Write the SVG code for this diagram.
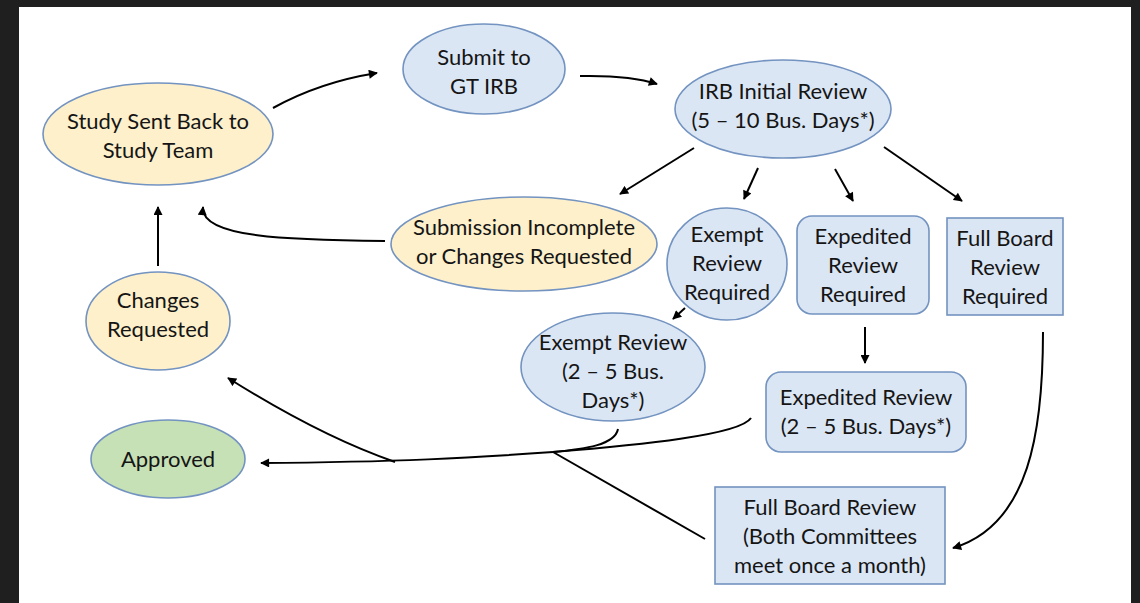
<svg xmlns="http://www.w3.org/2000/svg" width="1140" height="603" viewBox="0 0 1140 603">
<defs>
<marker id="ah" viewBox="0 0 10 10" refX="9" refY="5" markerWidth="10" markerHeight="9" markerUnits="userSpaceOnUse" orient="auto">
<path d="M0,0 L10,5 L0,10 z" fill="#000"/>
</marker>
<style>
.bl{fill:#dbe6f4;stroke:#7393c0;stroke-width:1.6}
.yl{fill:#fdf0cb;stroke:#7393c0;stroke-width:1.6}
.gr{fill:#c6e1b6;stroke:#7393c0;stroke-width:1.6}
text{font-family:Lato,"Liberation Sans",sans-serif;font-size:22px;fill:#151515;text-anchor:middle}
.c{fill:none;stroke:#000;stroke-width:2}
.a{marker-end:url(#ah)}
</style>
</defs>
<rect x="0" y="0" width="1140" height="603" fill="#1f1f1f"/>
<rect x="19" y="7" width="1112" height="596" fill="#fff"/>
<g id="connectors">
<path class="c a" d="M273,108 Q320,82 377,73"/>
<path class="c a" d="M580,76 Q630,75 657,84"/>
<path class="c a" d="M694,148 L620,194"/>
<path class="c a" d="M758,168 L744,199"/>
<path class="c a" d="M835,169 L853,201"/>
<path class="c a" d="M884,147 L962,201"/>
<path class="c a" d="M685,308 L673,319"/>
<path class="c a" d="M865,327 L865,363"/>
<path class="c a" d="M1043,332 C1043,430 1030,525 953,548"/>
<path class="c a" d="M385,241 C290,240 200,238 203,207"/>
<path class="c a" d="M158,266 L158,207"/>
<path class="c" d="M618,429 C615,445 585,449 553,452"/>
<path class="c" d="M751,418 C740,435 640,445 553,452"/>
<path class="c" d="M553,452 L705,539"/>
<path class="c a" d="M553,452 C470,458 400,462 261,463"/>
<path class="c a" d="M395,462 Q320,436 228,378"/>
</g>
<g id="study-sent-back">
<ellipse class="yl" cx="158" cy="134" rx="115" ry="51"/>
<text x="158" y="129">Study Sent Back to</text>
<text x="158" y="158">Study Team</text>
</g>
<g id="submit">
<ellipse class="bl" cx="484" cy="69" rx="81" ry="45"/>
<text x="484" y="65">Submit to</text>
<text x="484" y="94">GT IRB</text>
</g>
<g id="irb-initial">
<ellipse class="bl" cx="783" cy="109" rx="108" ry="49"/>
<text x="783" y="99">IRB Initial Review</text>
<text x="783" y="128">(5 – 10 Bus. Days*)</text>
</g>
<g id="submission-incomplete">
<ellipse class="yl" cx="524" cy="244" rx="133" ry="47"/>
<text x="524" y="235">Submission Incomplete</text>
<text x="524" y="264">or Changes Requested</text>
</g>
<g id="exempt-required">
<ellipse class="bl" cx="727" cy="264" rx="60" ry="56"/>
<text x="727" y="242">Exempt</text>
<text x="727" y="271">Review</text>
<text x="727" y="300">Required</text>
</g>
<g id="expedited-required">
<rect class="bl" x="797" y="216" width="132" height="98" rx="15"/>
<text x="863" y="244">Expedited</text>
<text x="863" y="273">Review</text>
<text x="863" y="302">Required</text>
</g>
<g id="fullboard-required">
<rect class="bl" x="947" y="218" width="116" height="97"/>
<text x="1005" y="246">Full Board</text>
<text x="1005" y="275">Review</text>
<text x="1005" y="304">Required</text>
</g>
<g id="changes-requested">
<ellipse class="yl" cx="158" cy="321" rx="72" ry="49"/>
<text x="158" y="308">Changes</text>
<text x="158" y="337">Requested</text>
</g>
<g id="exempt-review">
<ellipse class="bl" cx="613" cy="367" rx="92" ry="54"/>
<text x="613" y="350">Exempt Review</text>
<text x="613" y="379">(2 – 5 Bus.</text>
<text x="613" y="408">Days*)</text>
</g>
<g id="expedited-review">
<rect class="bl" x="766" y="372" width="200" height="80" rx="15"/>
<text x="866" y="405">Expedited Review</text>
<text x="866" y="434">(2 – 5 Bus. Days*)</text>
</g>
<g id="approved">
<ellipse class="gr" cx="168" cy="459" rx="77" ry="39"/>
<text x="168" y="467">Approved</text>
</g>
<g id="fullboard-review">
<rect class="bl" x="715" y="487" width="230" height="97"/>
<text x="830" y="515">Full Board Review</text>
<text x="830" y="544">(Both Committees</text>
<text x="830" y="573">meet once a month)</text>
</g>
</svg>
